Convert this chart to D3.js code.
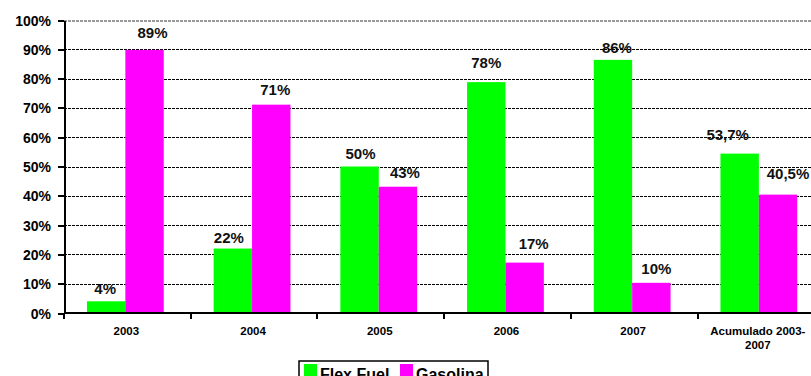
<!DOCTYPE html>
<html lang="pt">
	<head>
		<meta charset="utf-8">
		<title>Flex Fuel x Gasolina</title>
		<script type="text/javascript" src="https://d3js.org/d3.v7.min.js"></script>
		<style type="text/css">
			body {
			  margin: 0;
			  background: #fff;
			  font-family: Arial, "Liberation Sans", sans-serif;
			}

			.grid line {
			  stroke: #000;
			  stroke-width: 1px;
			  stroke-dasharray: 3,1;
			  shape-rendering: crispEdges;
			}

			.axis path,
			.axis line {
			  stroke: #000;
			  stroke-width: 2px;
			  shape-rendering: crispEdges;
			}

			.axis text {
			  font-family: Arial, "Liberation Sans", sans-serif;
			  font-weight: bold;
			  fill: #000;
			}

			.value {
			  font-weight: bold;
			  font-size: 15px;
			  fill: #111;
			}
		</style>
	</head>
	<body>
		<script type="text/javascript">

			var w = 811,
			    h = 376;

			// data
			var categories = ["2003", "2004", "2005", "2006", "2007", "Acumulado 2003-2007"];
			var series = ["Flex Fuel", "Gasolina"];
			var flexFuel = [4, 22, 50, 78.8, 86.4, 54.4];
			var gasolina = [89.8, 71.1, 43.1, 17.2, 10.3, 40.4];
			var flexLabels = ["4%", "22%", "50%", "78%", "86%", "53,7%"];
			var gasLabels = ["89%", "71%", "43%", "17%", "10%", "40,5%"];
			var yTicks = [0, 10, 20, 30, 40, 50, 60, 70, 80, 90, 100];

			var colors = ["#00ff00", "#ff00ff"];

			// label nudges (dx, dy) as Excel placed them
			var flexNudge = [[-1, -7], [-4, -6], [1, -8], [0, -14], [4, -7], [-12, -14]];
			var gasNudge = [[8, -12], [4, -10], [7, -9], [9, -14], [5, -9], [10, -16]];

			var plotLeft = 64, plotBottom = 313, plotTop = 20,
			    step = 126.7;

			var svg = d3.select("body")
			            .append("svg")
			            .attr("width", w)
			            .attr("height", h);

			var x0 = d3.scaleBand()
			           .domain(categories)
			           .range([plotLeft, plotLeft + step * categories.length])
			           .paddingInner(0)
			           .paddingOuter(0);

			var x1 = d3.scaleBand()
			           .domain(series)
			           .range([0, x0.bandwidth()])
			           .paddingInner(0)
			           .paddingOuter(0.65);

			var yScale = d3.scaleLinear()
			               .domain([0, 100])
			               .range([plotBottom, plotTop]);

			// grid lines
			svg.append("g")
			   .attr("class", "grid")
			   .selectAll("line")
			   .data(yTicks.filter(function(d){ return d > 0; }))
			   .enter()
			   .append("line")
			   .attr("x1", plotLeft)
			   .attr("x2", w)
			   .attr("y1", function(d){ return Math.round(yScale(d)) + 0.5; })
			   .attr("y2", function(d){ return Math.round(yScale(d)) + 0.5; })
			   .style("stroke", function(d){ return d == 100 ? "#999" : "#000"; })
			   .style("stroke-width", function(d){ return d == 100 ? 2 : 1; });

			// bars
			var rows = categories.map(function(c, i){
				return [
					{cat: c, s: series[0], v: flexFuel[i], label: flexLabels[i], nudge: flexNudge[i], k: 0},
					{cat: c, s: series[1], v: gasolina[i], label: gasLabels[i], nudge: gasNudge[i], k: 1}
				];
			});

			var group = svg.selectAll("g.cat")
			               .data(rows)
			               .enter()
			               .append("g")
			               .attr("class", "cat")
			               .attr("transform", function(d){ return "translate(" + x0(d[0].cat) + ",0)"; });

			group.selectAll("rect")
			     .data(function(d){ return d; })
			     .enter()
			     .append("rect")
			     .attr("x", function(d){ return x1(d.s) - 2; })
			     .attr("width", x1.bandwidth())
			     .attr("y", function(d){ return yScale(d.v); })
			     .attr("height", function(d){ return yScale(0) - yScale(d.v); })
			     .attr("fill", function(d){ return colors[d.k]; });

			group.selectAll("text")
			     .data(function(d){ return d; })
			     .enter()
			     .append("text")
			     .attr("class", "value")
			     .attr("text-anchor", "middle")
			     .attr("x", function(d){ return x1(d.s) - 2 + x1.bandwidth() / 2 + d.nudge[0]; })
			     .attr("y", function(d){ return yScale(d.v) + d.nudge[1]; })
			     .text(function(d){ return d.label; });

			// y axis
			var yAxis = svg.append("g")
			   .attr("class", "axis")
			   .attr("transform", "translate(" + plotLeft + ",0)")
			   .call(d3.axisLeft(yScale)
			           .tickValues(yTicks)
			           .tickSize(6)
			           .tickSizeOuter(0)
			           .tickFormat(function(d){ return d + "%"; }));
			yAxis.selectAll("text")
			     .style("font-size", "14px")
			     .attr("x", -13)
			     .attr("dy", "0.36em");

			// x axis
			var xTickScale = d3.scaleLinear()
			                   .domain([0, categories.length])
			                   .range([plotLeft, plotLeft + step * categories.length]);

			svg.append("line")
			   .attr("x1", plotLeft)
			   .attr("x2", w)
			   .attr("y1", plotBottom)
			   .attr("y2", plotBottom)
			   .style("stroke", "#000")
			   .style("stroke-width", 2);

			svg.append("g")
			   .attr("class", "axis")
			   .selectAll("line")
			   .data(d3.range(0, categories.length))
			   .enter()
			   .append("line")
			   .attr("x1", function(d){ return Math.round(xTickScale(d)); })
			   .attr("x2", function(d){ return Math.round(xTickScale(d)); })
			   .attr("y1", plotBottom)
			   .attr("y2", plotBottom + 6);

			var catText = svg.append("g")
			   .attr("class", "axis")
			   .selectAll("text")
			   .data(categories)
			   .enter()
			   .append("text")
			   .attr("text-anchor", "middle")
			   .style("font-size", "11.5px")
			   .attr("x", function(d){ return x0(d) + x0.bandwidth() / 2 - 1; })
			   .attr("y", 335);

			catText.each(function(d){
				var t = d3.select(this);
				if (d.indexOf("Acumulado") == 0) {
					t.append("tspan").attr("x", t.attr("x") - 2).text("Acumulado 2003-");
					t.append("tspan").attr("x", t.attr("x") - 2).attr("dy", 14).text("2007");
				} else {
					t.text(d);
				}
			});

			// legend
			var legend = svg.append("g")
			                .attr("transform", "translate(299,361)");

			legend.append("rect")
			      .attr("x", 0)
			      .attr("y", 0)
			      .attr("width", 189)
			      .attr("height", 30)
			      .attr("fill", "#fff")
			      .attr("stroke", "#000")
			      .attr("stroke-width", 1.5);

			var legendX = [5, 101];
			series.forEach(function(s, i){
				legend.append("rect")
				      .attr("x", legendX[i])
				      .attr("y", 3)
				      .attr("width", 13)
				      .attr("height", 13)
				      .attr("fill", colors[i]);
				legend.append("text")
				      .attr("x", legendX[i] + 16)
				      .attr("y", 19)
				      .style("font-weight", "bold")
				      .style("font-size", "16px")
				      .text(s);
			});

		</script>
	</body>
</html>
